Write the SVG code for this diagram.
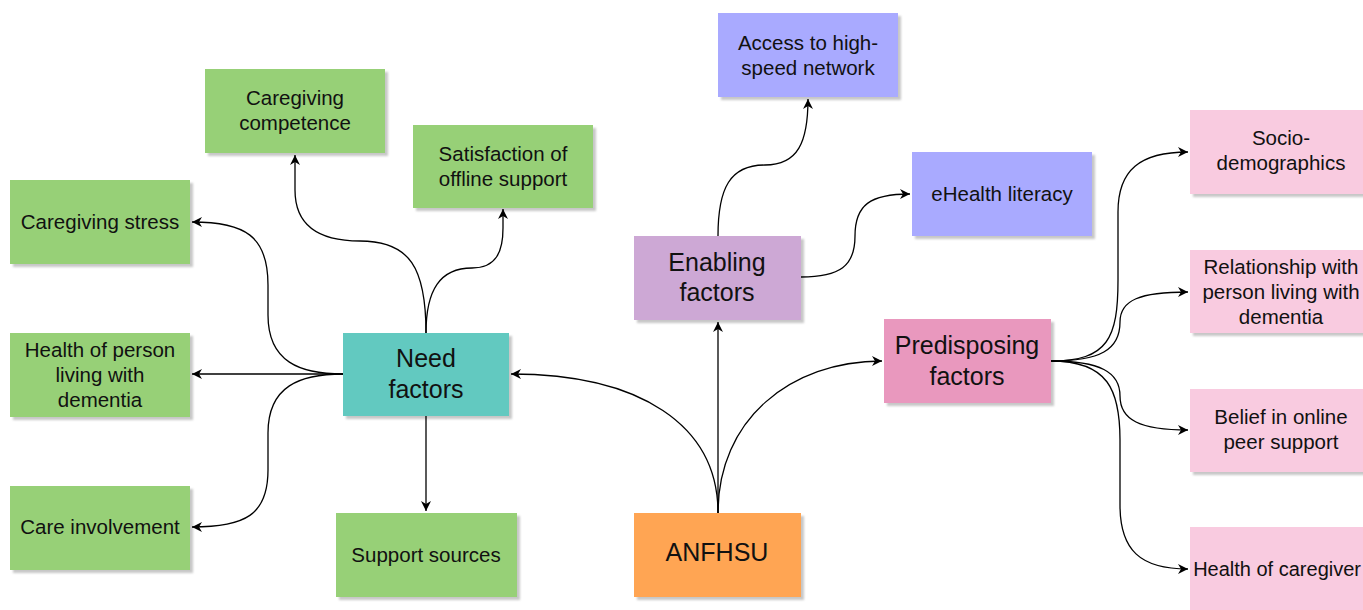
<svg xmlns="http://www.w3.org/2000/svg" width="1363" height="610" viewBox="0 0 1363 610">
<defs>
<filter id="sh" x="-10%" y="-10%" width="130%" height="130%">
<feDropShadow dx="3" dy="3" stdDeviation="1.2" flood-color="#000" flood-opacity="0.22"/>
</filter>
<marker id="ar" markerUnits="userSpaceOnUse" markerWidth="11" markerHeight="10" refX="10" refY="5" orient="auto">
<path d="M0,0 L10,5 L0,10 L3,5 z" fill="#000"/>
</marker>
<style>
.b{filter:url(#sh)}
.g{fill:#97D077}
.tl{fill:#62C9C0}
.pu{fill:#A9AAFF}
.en{fill:#CDA8D5}
.pr{fill:#E998BE}
.or{fill:#FFA552}
.pk{fill:#F9CBE0}
text{font-family:"Liberation Sans",Arial,Helvetica,sans-serif;fill:#111;text-anchor:middle}
.s{font-size:20.5px}
.l{font-size:25px}
.c path{fill:none;stroke:#000;stroke-width:1.3;marker-end:url(#ar)}
</style>
</defs>
<rect width="1363" height="610" fill="#fff"/>

<g class="c" id="connectors">
<path d="M343,374 L192,374"/>
<path d="M343,374 C300,374 268,362 268,315 L268,285 C268,236 245,222 192,222"/>
<path d="M343,374 C300,374 268,386 268,433 L268,470 C268,515 245,527 192,527"/>
<path d="M426,333 C426,268 410,241 360,241 C314,241 295,222 295,190 L295,155"/>
<path d="M426,333 C426,290 440,268 472,268 C496,268 503,252 503,228 L503,209"/>
<path d="M426,416 L426,511"/>
<path d="M718,513 C718,425 640,374 511,374"/>
<path d="M718,513 L718,322"/>
<path d="M718,513 C718,420 790,361 882,361"/>
<path d="M718,236 C718,188 730,165 765,165 C798,165 808,142 808,99"/>
<path d="M801,277 C840,277 855,266 855,236 C855,205 870,194 910,194"/>
<path d="M1051,361 C1108,361 1118,338 1118,280 L1118,212 C1118,170 1140,152 1188,152"/>
<path d="M1051,361 C1100,361 1120,350 1120,322 C1120,300 1140,292 1188,292"/>
<path d="M1051,361 C1100,361 1120,372 1120,396 C1120,420 1140,430 1188,430"/>
<path d="M1051,361 C1108,361 1120,390 1120,440 L1120,505 C1120,550 1140,569 1188,569"/>
</g>

<g id="caregiving-competence"><rect class="b g" x="205" y="69" width="180" height="84"/><text class="s" x="295" y="105">Caregiving</text><text class="s" x="295" y="130">competence</text></g>
<g id="satisfaction"><rect class="b g" x="413" y="125" width="180" height="83"/><text class="s" x="503" y="161">Satisfaction of</text><text class="s" x="503" y="186">offline support</text></g>
<g id="caregiving-stress"><rect class="b g" x="10" y="180" width="180" height="84"/><text class="s" x="100" y="229">Caregiving stress</text></g>
<g id="health-plwd"><rect class="b g" x="10" y="333" width="180" height="84"/><text class="s" x="100" y="357">Health of person</text><text class="s" x="100" y="382">living with</text><text class="s" x="100" y="407">dementia</text></g>
<g id="care-involvement"><rect class="b g" x="10" y="486" width="180" height="84"/><text class="s" x="100" y="534">Care involvement</text></g>
<g id="need-factors"><rect class="b tl" x="343" y="333" width="166" height="83"/><text class="l" x="426" y="367">Need</text><text class="l" x="426" y="398">factors</text></g>
<g id="support-sources"><rect class="b g" x="336" y="513" width="181" height="84"/><text class="s" x="426" y="562">Support sources</text></g>
<g id="access"><rect class="b pu" x="718" y="13" width="180" height="84"/><text class="s" x="808" y="50">Access to high-</text><text class="s" x="808" y="75">speed network</text></g>
<g id="ehealth"><rect class="b pu" x="912" y="152" width="180" height="84"/><text class="s" x="1002" y="201">eHealth literacy</text></g>
<g id="enabling-factors"><rect class="b en" x="634" y="236" width="167" height="84"/><text class="l" x="717" y="271">Enabling</text><text class="l" x="717" y="301">factors</text></g>
<g id="predisposing-factors"><rect class="b pr" x="884" y="319" width="167" height="84"/><text class="l" x="967" y="354">Predisposing</text><text class="l" x="967" y="385">factors</text></g>
<g id="anfhsu"><rect class="b or" x="634" y="513" width="167" height="84"/><text class="l" x="717" y="561">ANFHSU</text></g>
<g id="socio"><rect class="b pk" x="1190" y="110" width="182" height="84"/><text class="s" x="1281" y="145">Socio-</text><text class="s" x="1281" y="170">demographics</text></g>
<g id="relationship"><rect class="b pk" x="1190" y="250" width="182" height="83"/><text class="s" x="1281" y="274">Relationship with</text><text class="s" x="1281" y="299">person living with</text><text class="s" x="1281" y="324">dementia</text></g>
<g id="belief"><rect class="b pk" x="1190" y="389" width="182" height="83"/><text class="s" x="1281" y="424">Belief in online</text><text class="s" x="1281" y="449">peer support</text></g>
<g id="health-caregiver"><rect class="b pk" x="1190" y="527" width="182" height="84"/><text x="1361" y="576" style="font-size:20px;text-anchor:end">Health of caregiver</text></g>
</svg>
